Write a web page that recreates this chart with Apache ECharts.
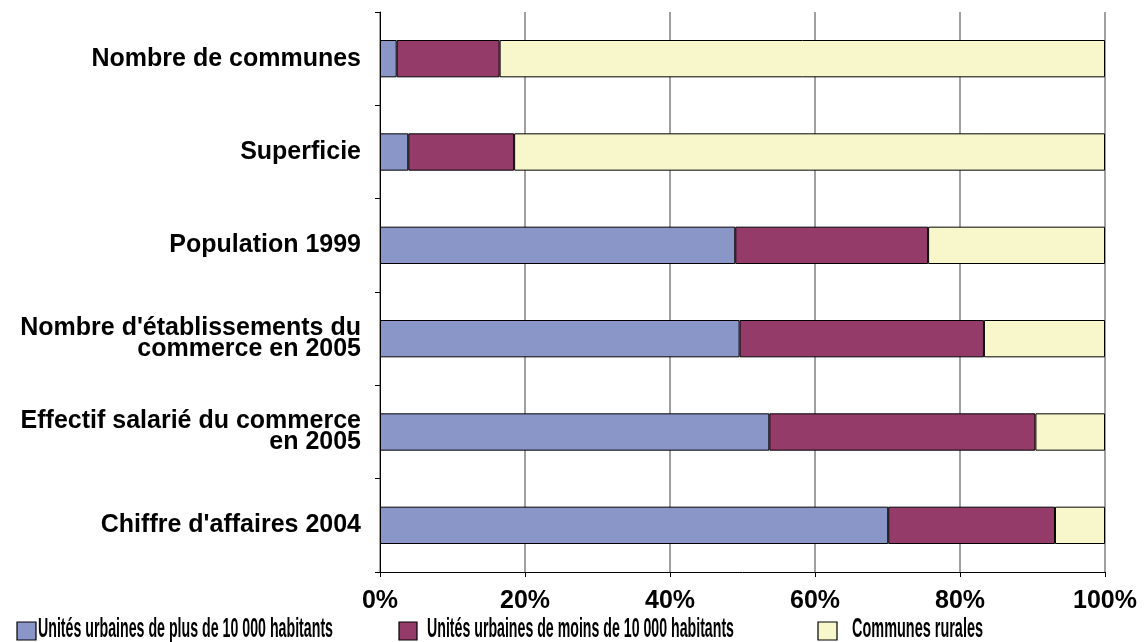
<!DOCTYPE html>
<html>
<head>
<meta charset="utf-8">
<script src="https://cdn.jsdelivr.net/npm/echarts@6/dist/echarts.min.js"></script>
<style>
  html, body { margin: 0; padding: 0; background: #fff; }
  #chart { width: 1147px; height: 642px; }
</style>
</head>
<body>
<div id="chart"></div>
<script>
  // categories, top to bottom
  var categories = ['Nombre de communes', 'Superficie', 'Population 1999',
    "Nombre d'établissements du\ncommerce en 2005", 'Effectif salarié du commerce\nen 2005',
    "Chiffre d'affaires 2004"]
  var seriesNames = ['Unités urbaines de plus de 10 000 habitants',
    'Unités urbaines de moins de 10 000 habitants', 'Communes rurales']
  // parts in %
  var plus10000 = [2.3, 3.9, 49.0, 49.6, 53.7, 70.1]
  var moins10000 = [14.2, 14.6, 26.6, 33.7, 36.7, 23.0]
  var rurales = [83.5, 81.5, 24.4, 16.7, 9.6, 6.9]
  var colors = ['#8b96c8', '#943b6a', '#f8f6cb']

  var chart = echarts.init(document.getElementById('chart'))
  var labelFont = 'Liberation Sans, Arial, sans-serif'
  var narrowFamily = '"Liberation Sans Narrow", "Liberation Sans", sans-serif'

  var values = [plus10000, moins10000, rurales]
  var series = values.map(function (data, i) {
    return {
      name: seriesNames[i],
      type: 'bar',
      stack: 'total',
      barWidth: '40%',
      data: data,
      itemStyle: { color: colors[i], borderColor: '#000', borderWidth: 1 }
    }
  })

  // legend drawn by hand: the original uses a very condensed font
  var ctx = document.createElement('canvas').getContext('2d')
  function fitScale(text, font, target) {
    ctx.font = font
    return target / ctx.measureText(text).width
  }
  var legendBox = [{ x: 17, w: 19 }, { x: 399, w: 18 }, { x: 818, w: 19 }]
  var legendText = [{ x: 38, w: 295 }, { x: 427, w: 307 }, { x: 852, w: 131 }]
  var legendFont = 'bold 27px ' + narrowFamily
  var graphics = []
  seriesNames.forEach(function (name, i) {
    graphics.push({
      type: 'rect',
      shape: { x: legendBox[i].x, y: 622, width: legendBox[i].w, height: 18 },
      style: { fill: colors[i], stroke: '#000', lineWidth: 1.2 }
    })
    graphics.push({
      type: 'text',
      x: legendText[i].x,
      y: 630,
      scaleX: fitScale(name, legendFont, legendText[i].w),
      style: {
        text: name,
        font: legendFont,
        fill: '#000',
        align: 'left',
        verticalAlign: 'middle'
      }
    })
  })

  var option = {
    backgroundColor: '#fff',
    animation: false,
    graphic: graphics,
    grid: { left: 380, right: 42, top: 12, bottom: 70 },
    xAxis: {
      type: 'value',
      min: 0,
      max: 100,
      interval: 20,
      axisLine: { show: true, lineStyle: { color: '#000', width: 1 } },
      axisTick: { show: true, length: 5, lineStyle: { color: '#000' } },
      splitLine: { show: true, lineStyle: { color: '#808080', width: 1.5 } },
      axisLabel: {
        formatter: '{value}%',
        margin: 17,
        fontFamily: labelFont,
        fontWeight: 'bold',
        fontSize: 25,
        color: '#000'
      }
    },
    yAxis: {
      type: 'category',
      inverse: true,
      data: categories,
      axisLine: { show: true, lineStyle: { color: '#000', width: 1 } },
      axisTick: { show: true, length: 5, interval: 0, lineStyle: { color: '#000' } },
      axisLabel: {
        margin: 19,
        align: 'right',
        lineHeight: 21,
        fontFamily: labelFont,
        fontWeight: 'bold',
        fontSize: 25,
        color: '#000'
      }
    },
    series: series
  }

  chart.setOption(option)
</script>
</body>
</html>
